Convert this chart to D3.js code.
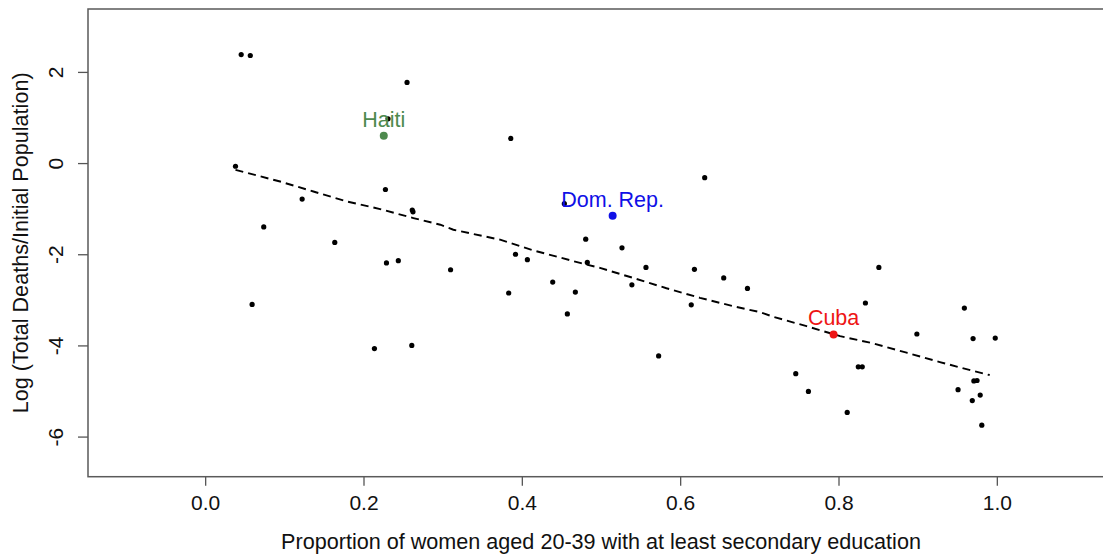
<!DOCTYPE html>
<html lang="en">
	<head>
		<meta charset="utf-8">
		<title>Education vs disaster deaths</title>
		<script type="text/javascript" src="https://cdn.jsdelivr.net/npm/d3@7"></script>
		<style type="text/css">
			body { margin: 0; background: #fff; }
			text { font-family: "Liberation Sans", Arial, sans-serif; }
			.axis path { display: none; }
			.axis line { stroke: #555; stroke-width: 1.3; }
			.axis text { font-size: 21px; fill: #111; }
		</style>
	</head>
	<body>
		<script type="text/javascript">

			//Country points: share of women with secondary education, log death rate
			var eduShare = [0.0455, 0.057, 0.255, 0.231, 0.0383, 0.2277, 0.1225, 0.2616, 0.2625, 0.074,
				0.1637, 0.386, 0.631, 0.4537, 0.4807, 0.5265, 0.0593, 0.229, 0.244, 0.2138,
				0.261, 0.310, 0.392, 0.407, 0.4827, 0.3834, 0.439, 0.4676, 0.4575, 0.5568,
				0.539, 0.5728, 0.618, 0.614, 0.655, 0.685, 0.851, 0.834, 0.746, 0.762,
				0.811, 0.825, 0.830, 0.899, 0.959, 0.970, 0.998, 0.971, 0.975, 0.951,
				0.979, 0.969, 0.981];
			var logDeaths = [2.38, 2.36, 1.77, 0.97, -0.07, -0.58, -0.79, -1.03, -1.07, -1.40,
				-1.74, 0.54, -0.32, -0.89, -1.67, -1.86, -3.10, -2.19, -2.14, -4.07,
				-4.00, -2.34, -2.00, -2.12, -2.18, -2.85, -2.61, -2.83, -3.31, -2.29,
				-2.67, -4.23, -2.33, -3.11, -2.52, -2.75, -2.29, -3.07, -4.62, -5.01,
				-5.47, -4.47, -4.47, -3.75, -3.18, -3.85, -3.84, -4.78, -4.77, -4.97,
				-5.09, -5.21, -5.75];

			//Highlighted countries
			var hlNames = ["Haiti", "Dom. Rep.", "Cuba"];
			var hlEdu = [0.2256, 0.5147, 0.7938];
			var hlDeaths = [0.60, -1.155, -3.76];
			var hlColors = ["#4e8a4e", "#1010e6", "#ee1515"];

			//Smoothed trend (dashed)
			var trendX = [0.0383, 0.0947, 0.1367, 0.179, 0.221, 0.263, 0.297, 0.3135, 0.3725, 0.4145,
				0.4735, 0.4987, 0.5408, 0.5827, 0.625, 0.667, 0.7008, 0.7176, 0.7597, 0.802,
				0.844, 0.886, 0.928, 0.970, 0.991];
			var trendY = [-0.149, -0.405, -0.624, -0.842, -1.009, -1.206, -1.352, -1.462, -1.68, -1.915,
				-2.19, -2.30, -2.52, -2.746, -2.956, -3.14, -3.27, -3.372, -3.578, -3.797,
				-3.956, -4.16, -4.365, -4.56, -4.65];

			var xTicks = [0, 0.2, 0.4, 0.6, 0.8, 1.0];
			var yTicks = [2, 0, -2, -4, -6];

			var w = 1103;
			var h = 554;
			var plotL = 88, plotT = 9, plotR = 1114, plotB = 476.7;

			var xScale = d3.scaleLinear()
							.domain([-0.148, 1.148])
							.range([plotL, plotR]);

			var yScale = d3.scaleLinear()
							.domain([-6.88, 3.38])
							.range([plotB, plotT]);

			var svg = d3.select("body")
						.append("svg")
						.attr("width", w)
						.attr("height", h);

			//Axes
			var xAxis = d3.axisBottom(xScale)
						.tickValues(xTicks)
						.tickSize(9)
						.tickPadding(9)
						.tickFormat(d3.format(".1f"));

			var yAxis = d3.axisLeft(yScale)
						.tickValues(yTicks)
						.tickSize(10)
						.tickFormat(function(d) { return d; });

			svg.append("g")
				.attr("class", "axis")
				.attr("transform", "translate(0," + plotB + ")")
				.call(xAxis)
				.selectAll("text")
				.attr("dy", "0.71em");

			var gy = svg.append("g")
				.attr("class", "axis")
				.attr("transform", "translate(" + plotL + ",0)")
				.call(yAxis);

			gy.selectAll("text")
				.attr("x", 0)
				.attr("dy", 0)
				.attr("text-anchor", "middle")
				.attr("transform", "translate(-25,0) rotate(-90)");

			//Frame
			svg.append("rect")
				.attr("x", plotL)
				.attr("y", plotT)
				.attr("width", plotR - plotL)
				.attr("height", plotB - plotT)
				.attr("fill", "none")
				.attr("stroke", "#5a5a5a")
				.attr("stroke-width", 1.5);

			//Axis titles
			svg.append("text")
				.attr("x", (plotL + plotR) / 2)
				.attr("y", 549)
				.attr("text-anchor", "middle")
				.attr("font-size", "21.6px")
				.attr("fill", "#111")
				.text("Proportion of women aged 20-39 with at least secondary education");

			svg.append("text")
				.attr("transform", "translate(28," + ((plotT + plotB) / 2) + ") rotate(-90)")
				.attr("text-anchor", "middle")
				.attr("font-size", "21.6px")
				.attr("fill", "#111")
				.text("Log (Total Deaths/Initial Population)");

			//Trend line
			var line = d3.line()
						.x(function(d, i) { return xScale(trendX[i]); })
						.y(function(d, i) { return yScale(trendY[i]); });

			svg.append("path")
				.datum(trendX)
				.attr("d", line)
				.attr("fill", "none")
				.attr("stroke", "#000")
				.attr("stroke-width", 1.9)
				.attr("stroke-dasharray", "8,5");

			//Points
			svg.selectAll("circle.pt")
				.data(eduShare)
				.enter()
				.append("circle")
				.attr("class", "pt")
				.attr("cx", function(d) { return xScale(d); })
				.attr("cy", function(d, i) { return yScale(logDeaths[i]); })
				.attr("r", 2.6)
				.attr("fill", "#000");

			//Highlighted countries
			svg.selectAll("circle.hl")
				.data(hlNames)
				.enter()
				.append("circle")
				.attr("class", "hl")
				.attr("cx", function(d, i) { return xScale(hlEdu[i]); })
				.attr("cy", function(d, i) { return yScale(hlDeaths[i]); })
				.attr("r", 4)
				.attr("fill", function(d, i) { return hlColors[i]; });

			svg.selectAll("text.hl")
				.data(hlNames)
				.enter()
				.append("text")
				.attr("class", "hl")
				.attr("x", function(d, i) { return xScale(hlEdu[i]); })
				.attr("y", function(d, i) { return yScale(hlDeaths[i]) - 9; })
				.attr("text-anchor", "middle")
				.attr("font-size", "21.5px")
				.attr("fill", function(d, i) { return hlColors[i]; })
				.text(function(d) { return d; });

		</script>
	</body>
</html>
